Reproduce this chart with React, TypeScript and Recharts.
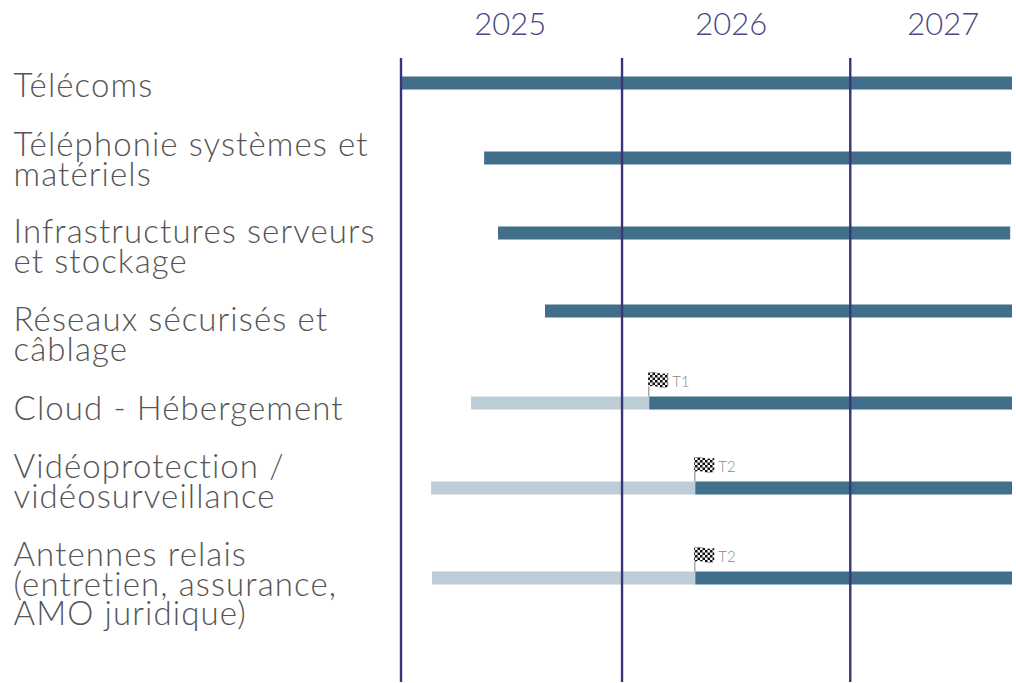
import React from "react";
import { BarChart, Bar, XAxis, YAxis, ReferenceLine, LabelList } from "recharts";

// Row labels (one entry per printed line)
const labels: string[][] = [
  ["Télécoms"],
  ["Téléphonie systèmes et", "matériels"],
  ["Infrastructures serveurs", "et stockage"],
  ["Réseaux sécurisés et", "câblage"],
  ["Cloud - Hébergement"],
  ["Vidéoprotection /", "vidéosurveillance"],
  ["Antennes relais", "(entretien, assurance,", "AMO juridique)"],
];
// Vertical centre of each row on the chart's row scale
const rowCentres = [25, 100, 175, 253, 345, 430, 520];
// Years elapsed since the start of 2025
const starts = [0, 0.37, 0.432, 0.641, 0.312, 0.134, 0.138];
const lightEnds = [0, 0.37, 0.432, 0.641, 1.105, 1.31, 1.31];
const ends = [2.72, 2.716, 2.712, 2.72, 2.72, 2.72, 2.72];
const flags = ["", "", "", "", "T1", "T2", "T2"];
const yearLines = [0, 0.984, 2];
const yearTicks = [0.486, 1.47, 2.414];
const BASE_YEAR = 2025;

const data = labels.map((_, i) => ({
  row: rowCentres[i],
  offset: starts[i],
  light: lightEnds[i] - starts[i],
  dark: ends[i] - lightEnds[i],
  flag: flags[i],
}));

const LABEL_FONT = "Lato";
const firstBaselineOffsets = [14, -2, 10, 20, 17, -10, -12];

const RowTick = (props: any) => {
  const i = props.index;
  const lines = labels[i] || [];
  const first = props.y + (firstBaselineOffsets[i] ?? 0);
  return (
    <text x={13.5} y={first} fill="#555" fontFamily={LABEL_FONT} fontWeight={300} fontSize={33} textAnchor="start" letterSpacing={1.1}>
      {lines.map((l, k) => (
        <tspan key={k} x={13.5} y={first + k * 29.5}>
          {l}
        </tspan>
      ))}
    </text>
  );
};

const YearTick = (props: any) => (
  <text x={props.x} y={35} fill="#4b4785" fontFamily={LABEL_FONT} fontWeight={300} fontSize={31} textAnchor="middle">
    {BASE_YEAR + Math.floor(props.payload.value)}
  </text>
);

const Flag = (props: any) => {
  const { x, y, value } = props;
  if (!value) return null;
  const top = y - 24;
  return (
    <g>
      <line x1={x - 0.5} x2={x - 0.5} y1={top} y2={y} stroke="#a8a8a8" strokeWidth={1.5} />
      <path
        d={`M${x - 1} ${top} q5 -1 10 0.5 q5 1.5 10 0 v14 q-5 1.5 -10 0 q-5 -1.5 -10 -0.5 z`}
        fill="url(#checker)"
      />
      <text x={x + 23} y={top + 14} fill="#8a8a8a" fontFamily={LABEL_FONT} fontWeight={300} fontSize={15}>
        {value}
      </text>
    </g>
  );
};

export default function App() {
  return (
    <div style={{ position: "absolute", left: 0, top: 0 }}>
      <BarChart
        width={1016}
        height={683}
        data={data}
        layout="vertical"
        margin={{ top: 0, right: 4, bottom: 1, left: 0 }}
      >
        <defs>
          <pattern id="checker" width="5" height="5" patternUnits="userSpaceOnUse">
            <rect width="5" height="5" fill="#f4f4f4" />
            <rect width="2.5" height="2.5" fill="#111" />
            <rect x="2.5" y="2.5" width="2.5" height="2.5" fill="#111" />
          </pattern>
        </defs>
        <XAxis
          type="number"
          orientation="top"
          height={58}
          domain={[0, 2.72]}
          ticks={yearTicks}
          interval={0}
          axisLine={false}
          tickLine={false}
          tick={<YearTick />}
        />
        <YAxis
          type="number"
          dataKey="row"
          width={401}
          domain={[0, 624]}
          ticks={rowCentres}
          interval={0}
          axisLine={false}
          tickLine={false}
          tick={<RowTick />}
        />
        <Bar dataKey="offset" stackId="a" fill="transparent" barSize={13} isAnimationActive={false} />
        <Bar dataKey="light" stackId="a" fill="#bccdd8" barSize={13} isAnimationActive={false} />
        <Bar dataKey="dark" stackId="a" fill="#416f8b" barSize={13} isAnimationActive={false}>
          <LabelList dataKey="flag" content={<Flag />} />
        </Bar>
        {yearLines.map((v) => (
          <ReferenceLine key={v} x={v} stroke="#3b3578" strokeWidth={2.4} />
        ))}
      </BarChart>
    </div>
  );
}
